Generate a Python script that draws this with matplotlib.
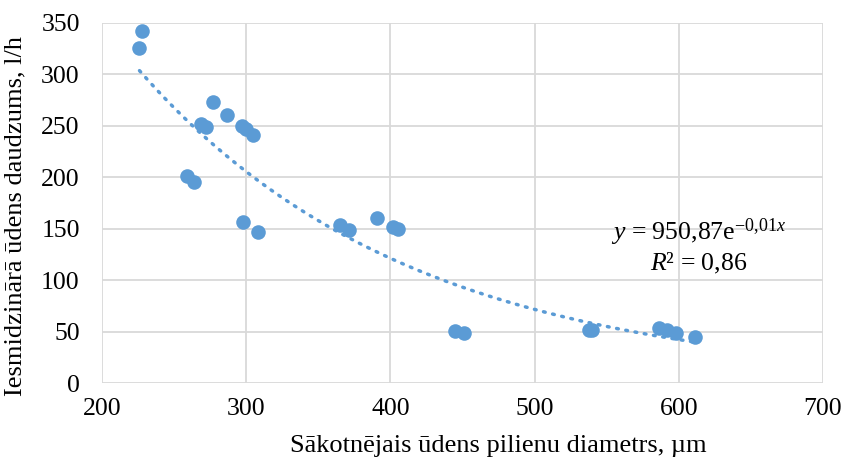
import numpy as np
import matplotlib.pyplot as plt

plt.rcParams['font.family'] = ['Liberation Serif', 'DejaVu Serif']
plt.rcParams['mathtext.fontset'] = 'custom'
plt.rcParams['mathtext.rm'] = 'Liberation Serif'
plt.rcParams['mathtext.it'] = 'Liberation Serif:italic'

# diametrs (µm) un ūdens daudzums (l/h), nolasīts no attēla
diam = [226, 228, 259, 264, 269, 272, 277, 287, 297, 298, 300, 305, 308,
        365, 371, 391, 402, 405, 445, 451, 538, 540, 586, 592, 598, 611]
flow = [326, 342, 201, 195, 252, 249, 273, 261, 250, 156.5, 247, 241, 147,
        154, 149, 160, 152, 150, 51, 48.5, 52, 52, 53.5, 51.5, 49, 45]

x = np.array(diam, dtype=float)
y = np.array(flow, dtype=float)

# eksponenciālā trendlīnija
b, ln_a = np.polyfit(x, np.log(y), 1)
xt = np.linspace(x.min(), x.max(), 200)
yt = np.exp(ln_a) * np.exp(b * xt)

fig = plt.figure(figsize=(8.44, 4.68), dpi=100)
ax = fig.add_axes([102 / 844, 1 - 383 / 468, (823 - 102) / 844, (383 - 23) / 468])

c = '#5B9BD5'
ax.plot(xt, yt, color=c, linestyle=(0, (0.5, 2.2)), linewidth=2.5,
        dash_capstyle='round', zorder=2)
ax.scatter(x, y, s=110, color=c, zorder=3, linewidths=0)

ax.set_xlim(200, 700)
ax.set_ylim(0, 350)
ax.set_xticks(range(200, 701, 100))
ax.set_yticks(range(0, 351, 50))
ax.grid(True, color='#D9D9D9', linewidth=1.3)
ax.set_axisbelow(True)
for s in ax.spines.values():
    s.set_visible(False)
ax.tick_params(length=0, labelsize=18.5)
ax.tick_params(axis='x', pad=11)
ax.tick_params(axis='y', pad=16)

ax.set_xlabel('Sākotnējais ūdens pilienu diametrs, µm', fontsize=19)
ax.set_ylabel('Iesmidzinārā ūdens daudzums, l/h', fontsize=19)
ax.xaxis.set_label_coords(0.549, -0.145)
ax.yaxis.set_label_coords(-0.105, 0.464)

ax.text(0.828, 0.397, r'$y$ = 950,87e$^{\mathrm{−0{,}01}x}$', transform=ax.transAxes,
        ha='center', va='baseline', fontsize=18.5)
ax.text(0.828, 0.314, r'$R$² = 0,86', transform=ax.transAxes,
        ha='center', va='baseline', fontsize=18.5)

fig.savefig('out.png', dpi=100)
